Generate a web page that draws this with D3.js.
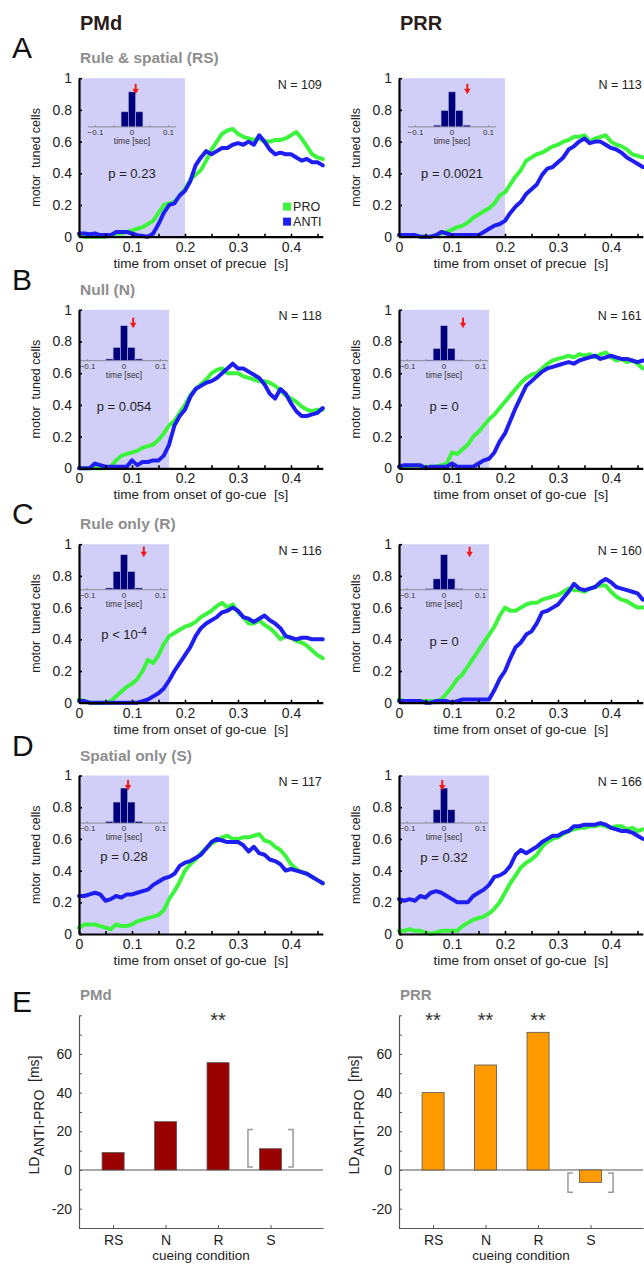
<!DOCTYPE html>
<html><head><meta charset="utf-8">
<script src="https://cdn.jsdelivr.net/npm/d3@7"></script>
<style>body{margin:0;background:#fff} svg{display:block;font-family:"Liberation Sans",Arial,sans-serif}</style>
</head><body><svg id="c" width="644" height="1265"></svg>
<script>
// ---------------- DATA ----------------
const time = [0,0.01,0.02,0.03,0.04,0.05,0.06,0.07,0.08,0.09,0.10,0.11,0.12,0.13,0.14,0.15,0.16,0.17,0.18,0.19,0.20,0.21,0.22,0.23,0.24,0.25,0.26,0.27,0.28,0.29,0.30,0.31,0.32,0.33,0.34,0.35,0.36,0.37,0.38,0.39,0.40,0.41,0.42,0.43,0.44,0.45,0.46];

const pmdRS_pro  = [0.01,0,0,0,0,0,0.01,0.02,0.02,0.03, 0.04,0.05,0.06,0.08,0.1,0.15,0.2,0.21,0.22,0.26, 0.3,0.36,0.39,0.42,0.48,0.55,0.6,0.65,0.67,0.68, 0.65,0.63,0.62,0.61,0.62,0.6,0.6,0.61,0.61,0.62, 0.64,0.66,0.62,0.57,0.52,0.5,0.49];
const pmdRS_anti = [0.02,0.02,0.015,0.02,0.01,0.01,0.01,0.03,0.03,0.03, 0.02,0.01,0.005,0,0.02,0.08,0.15,0.2,0.21,0.26, 0.29,0.35,0.45,0.5,0.54,0.52,0.54,0.56,0.56,0.58, 0.59,0.58,0.6,0.58,0.64,0.6,0.55,0.52,0.53,0.52, 0.52,0.5,0.48,0.49,0.47,0.47,0.45];
const prrRS_pro  = [0.01,0.01,0.01,0.01,0,0,0,0.01,0.02,0.03, 0.045,0.06,0.07,0.09,0.12,0.14,0.16,0.18,0.21,0.26, 0.28,0.33,0.38,0.42,0.48,0.5,0.52,0.53,0.55,0.57, 0.58,0.6,0.61,0.63,0.63,0.64,0.6,0.62,0.63,0.64, 0.6,0.58,0.57,0.55,0.52,0.51,0.5];
const prrRS_anti = [0.01,0.01,0.01,0.01,0,0,0,0.01,0.03,0.02, 0.01,0.01,0.01,0.01,0.01,0.01,0.03,0.05,0.07,0.08, 0.1,0.15,0.19,0.22,0.27,0.3,0.33,0.39,0.43,0.44, 0.47,0.5,0.55,0.57,0.6,0.62,0.59,0.6,0.6,0.58, 0.56,0.55,0.53,0.5,0.48,0.46,0.44];

const pmdN_pro  = [0,0,0,0,0,0,0.01,0.05,0.08,0.09, 0.1,0.11,0.13,0.14,0.15,0.18,0.22,0.27,0.3,0.35, 0.4,0.46,0.5,0.53,0.56,0.6,0.62,0.63,0.6,0.6, 0.6,0.58,0.57,0.56,0.55,0.55,0.54,0.52,0.49,0.46, 0.44,0.42,0.39,0.37,0.36,0.37,0.37];
const pmdN_anti = [0,0,0,0.03,0.02,0.01,0.01,0.01,0.01,0.01, 0.05,0.02,0.04,0.04,0.05,0.05,0.08,0.15,0.27,0.33, 0.37,0.45,0.5,0.52,0.54,0.55,0.57,0.6,0.63,0.66, 0.63,0.63,0.61,0.59,0.57,0.53,0.47,0.44,0.5,0.47, 0.41,0.36,0.33,0.33,0.34,0.35,0.38];
const prrN_pro  = [0.01,0.01,0.01,0.02,0.01,0.01,0.01,0.01,0.02,0.03, 0.1,0.09,0.12,0.15,0.2,0.23,0.27,0.31,0.34,0.38, 0.42,0.46,0.5,0.54,0.57,0.59,0.6,0.63,0.66,0.68, 0.69,0.7,0.71,0.7,0.72,0.71,0.72,0.7,0.72,0.73, 0.7,0.68,0.69,0.67,0.68,0.66,0.63];
const prrN_anti = [0.01,0.02,0.02,0.02,0.02,0,0.01,0.01,0.01,0.01, 0.03,0.01,0.01,0.01,0.01,0.03,0.05,0.06,0.1,0.17, 0.22,0.3,0.38,0.45,0.52,0.55,0.58,0.61,0.63,0.64, 0.65,0.66,0.67,0.66,0.68,0.69,0.7,0.71,0.69,0.7, 0.71,0.7,0.69,0.69,0.68,0.67,0.68];

const pmdR_pro  = [0.02,0.01,0,0,0,0,0.01,0.04,0.07,0.1, 0.12,0.15,0.2,0.27,0.25,0.3,0.37,0.42,0.44,0.46, 0.48,0.49,0.51,0.54,0.56,0.58,0.61,0.63,0.6,0.62, 0.57,0.54,0.5,0.5,0.52,0.49,0.47,0.44,0.4,0.42, 0.41,0.39,0.38,0.36,0.33,0.3,0.28];
const pmdR_anti = [0.01,0.01,0,0,0,0,0,0,0,0, 0,0,0.01,0.02,0.04,0.06,0.09,0.14,0.2,0.25, 0.3,0.35,0.42,0.47,0.5,0.52,0.54,0.57,0.58,0.6, 0.58,0.54,0.53,0.51,0.53,0.55,0.52,0.5,0.47,0.42, 0.41,0.4,0.41,0.41,0.4,0.4,0.4];
const prrR_pro  = [0.02,0.01,0.01,0.01,0.01,0.01,0.01,0.01,0.02,0.06, 0.1,0.15,0.18,0.23,0.28,0.33,0.38,0.43,0.48,0.55, 0.6,0.58,0.58,0.6,0.62,0.63,0.63,0.65,0.66,0.67, 0.68,0.7,0.72,0.71,0.71,0.7,0.72,0.73,0.74,0.74, 0.7,0.67,0.65,0.64,0.62,0.6,0.6];
const prrR_anti = [0.01,0.01,0.01,0.01,0.01,0,0,0.01,0.01,0.01, 0,0.01,0.02,0.02,0.02,0.02,0.02,0.02,0.08,0.15, 0.2,0.28,0.35,0.38,0.43,0.45,0.5,0.57,0.58,0.6, 0.62,0.66,0.7,0.75,0.72,0.71,0.72,0.73,0.76,0.78, 0.76,0.73,0.72,0.71,0.7,0.69,0.65];

const pmdS_pro  = [0.04,0.06,0.06,0.06,0.05,0.04,0.03,0.06,0.05,0.05, 0.06,0.08,0.09,0.1,0.11,0.12,0.15,0.22,0.27,0.33, 0.4,0.44,0.47,0.51,0.54,0.57,0.59,0.61,0.62,0.6, 0.6,0.61,0.61,0.62,0.63,0.59,0.58,0.55,0.53,0.49, 0.44,0.41,0.39,0.38,0.36,0.34,0.32];
const pmdS_anti = [0.24,0.24,0.25,0.26,0.25,0.21,0.22,0.24,0.23,0.25, 0.25,0.26,0.27,0.28,0.31,0.33,0.35,0.36,0.38,0.43, 0.45,0.46,0.48,0.5,0.54,0.58,0.6,0.59,0.58,0.58, 0.58,0.56,0.52,0.55,0.51,0.5,0.47,0.46,0.44,0.4, 0.41,0.4,0.39,0.38,0.36,0.34,0.32];
const prrS_pro  = [0.02,0.02,0.03,0.02,0.02,0.01,0,0.01,0.02,0.02, 0.02,0.02,0.05,0.07,0.09,0.1,0.11,0.13,0.16,0.2, 0.26,0.32,0.37,0.42,0.45,0.47,0.5,0.55,0.58,0.6, 0.61,0.63,0.65,0.66,0.67,0.67,0.68,0.68,0.69,0.68, 0.67,0.68,0.68,0.66,0.67,0.65,0.66];
const prrS_anti = [0.22,0.21,0.22,0.21,0.24,0.23,0.26,0.27,0.26,0.24, 0.22,0.2,0.2,0.2,0.24,0.26,0.28,0.31,0.36,0.37, 0.39,0.43,0.5,0.53,0.51,0.53,0.55,0.58,0.6,0.62, 0.62,0.64,0.65,0.68,0.68,0.69,0.69,0.69,0.7,0.69, 0.67,0.66,0.65,0.65,0.64,0.62,0.6];

const areaNames = ["PMd", "PRR"];
const rowLetters = ["A", "B", "C", "D"];
const rowTitles = ["Rule & spatial (RS)", "Null (N)", "Rule only (R)", "Spatial only (S)"];
const cueNames = ["precue", "go-cue", "go-cue", "go-cue"];
const nCells = [[109, 113], [118, 161], [116, 160], [117, 166]];
const pText = [["p = 0.23", "p = 0.0021"], ["p = 0.054", "p = 0"], ["p < 10", "p = 0"], ["p = 0.28", "p = 0.32"]];
const pExp  = [["", ""], ["", ""], ["-4", ""], ["", ""]];
const shadeEnd = [0.2, 0.17, 0.17, 0.17];
const legendNames = ["PRO", "ANTI"];

const series = [
  [[pmdRS_pro, pmdRS_anti], [prrRS_pro, prrRS_anti]],
  [[pmdN_pro,  pmdN_anti],  [prrN_pro,  prrN_anti]],
  [[pmdR_pro,  pmdR_anti],  [prrR_pro,  prrR_anti]],
  [[pmdS_pro,  pmdS_anti],  [prrS_pro,  prrS_anti]]
];

// inset histograms (relative counts; bin width 0.02 s)
const histBins = [-0.06, -0.04, -0.02, 0, 0.02, 0.04, 0.06];
const histVals = [
  [[0, 0, 0.43, 1, 0.43, 0, 0],       [0, 0.05, 0.47, 1, 0.47, 0.05, 0]],
  [[0, 0.05, 0.38, 1, 0.38, 0.05, 0], [0, 0.02, 0.35, 1, 0.35, 0.02, 0]],
  [[0, 0.05, 0.52, 1, 0.52, 0.05, 0], [0, 0.03, 0.31, 1, 0.31, 0.03, 0]],
  [[0, 0.05, 0.6, 1, 0.6, 0.05, 0],   [0, 0.02, 0.38, 1, 0.38, 0.02, 0]]
];
const arrowPos = [[0.01, 0.042], [0.025, 0.052], [0.054, 0.07], [0.011, -0.005]];
const insetTicks = [-0.1, 0, 0.1];

const xTicks = [0, 0.05, 0.1, 0.15, 0.2, 0.25, 0.3, 0.35, 0.4, 0.45];
const yTicks = [0, 0.2, 0.4, 0.6, 0.8, 1];

// Panel E
const ldCategories = ["RS", "N", "R", "S"];
const ldValues = [[9, 25, 55.5, 11], [40, 54.3, 71.2, -6.4]];
const ldBracket = [[1.5, 21], [-11.5, -1.5]];
const ldSig = [["", "", "**", ""], ["**", "**", "**", ""]];
const ldTicks = [-30, -20, -10, 0, 10, 20, 30, 40, 50, 60, 70, 80];
const ldTickLabels = [-20, 0, 20, 40, 60];

// ---------------- LAYOUT / STYLE ----------------
const GREEN = "#3cf43c", BLUE = "#1e1ef2", SHADE = "#d1cff8";
const BARCOL = ["#990000", "#ff9a00"];
const colX0 = [79, 399];
const rowY0 = [236.7, 468.3, 702.7, 934];
const plotW = 243.8, plotH = 158.5;
const pLabelY = [[0.40, 0.40], [0.39, 0.39], [0.43, 0.386], [0.487, 0.48]];
const insetBase = [0.693, 0.679, 0.713, 0.70];

const svg = d3.select("#c");

// column headers
areaNames.forEach((a, c) => {
  svg.append("text").attr("x", colX0[c] + 1).attr("y", 30)
    .attr("font-size", 20).attr("font-weight", "bold").attr("fill", "#2b1d1b").text(a);
});

rowY0.forEach((y0, r) => {
  const y1 = y0 - plotH;
  svg.append("text").attr("x", 12).attr("y", y1 - 20).attr("font-size", 30).attr("fill", "#111").text(rowLetters[r]);
  svg.append("text").attr("x", 80).attr("y", y1 - 15).attr("font-size", 15.5).attr("font-weight", "bold")
    .attr("fill", "#8e8e8e").text(rowTitles[r]);

  colX0.forEach((x0, c) => {
    const g = svg.append("g");
    const x = d3.scaleLinear().domain([0, 0.46]).range([x0, x0 + plotW]);
    const y = d3.scaleLinear().domain([0, 1]).range([y0, y1]);

    // shaded window
    g.append("rect").attr("x", x(0)).attr("y", y(1)).attr("width", x(shadeEnd[r]) - x(0))
      .attr("height", y(0) - y(1)).attr("fill", SHADE);

    // inset histogram
    const cx = x(shadeEnd[r] / 2);
    const hx = d3.scaleLinear().domain([-0.1, 0.1]).range([cx - 36.5, cx + 36.5]);
    const base = y(insetBase[r]);
    const hy = d3.scaleLinear().domain([0, 1]).range([base, base - 35]);
    const ig = g.append("g");
    ig.append("line").attr("x1", hx(-0.12)).attr("x2", hx(0.12)).attr("y1", base).attr("y2", base)
      .attr("stroke", "#777").attr("stroke-width", 0.8);
    [-0.1, -0.05, 0, 0.05, 0.1].forEach(t => ig.append("line").attr("x1", hx(t)).attr("x2", hx(t))
      .attr("y1", base).attr("y2", base - 1.8).attr("stroke", "#777").attr("stroke-width", 0.6));
    ig.selectAll("rect.h").data(histVals[r][c]).join("rect").attr("class", "h")
      .attr("x", (d, i) => hx(histBins[i] - 0.01)).attr("width", hx(0.02) - hx(0))
      .attr("y", d => hy(d)).attr("height", d => base - hy(d))
      .attr("fill", "#00007e").attr("stroke", "#b8b8d0").attr("stroke-width", 0.6);
    insetTicks.forEach(t => ig.append("text").attr("x", hx(t)).attr("y", base + 8)
      .attr("text-anchor", "middle").attr("font-size", 8).attr("fill", "#333")
      .text(t === 0 ? "0" : d3.format(".1f")(t)));
    ig.append("text").attr("x", cx).attr("y", base + 17).attr("text-anchor", "middle")
      .attr("font-size", 8.5).attr("fill", "#333").text("time [sec]");
    const ax = hx(arrowPos[r][c]);
    ig.append("line").attr("x1", ax).attr("x2", ax).attr("y1", base - 43).attr("y2", base - 37)
      .attr("stroke", "#f01818").attr("stroke-width", 2);
    ig.append("path").attr("d", `M${ax - 3.2},${base - 38}L${ax + 3.2},${base - 38}L${ax},${base - 32.5}Z`)
      .attr("fill", "#f01818");

    // p-value
    const pt = g.append("text").attr("x", cx).attr("y", y(pLabelY[r][c])).attr("dy", "0.35em")
      .attr("text-anchor", "middle").attr("font-size", 13).attr("fill", "#222");
    pt.append("tspan").text(pText[r][c]);
    if (pExp[r][c]) pt.append("tspan").attr("dy", "-0.45em").attr("font-size", 10).text(pExp[r][c]);

    // lines
    const line = d3.line().x((d, i) => x(time[i])).y(d => y(d));
    [GREEN, BLUE].forEach((col, k) => {
      g.append("path").attr("d", line(series[r][c][k])).attr("fill", "none").attr("stroke", col)
        .attr("stroke-width", 4).attr("stroke-linejoin", "round").attr("stroke-linecap", "round");
    });

    // axes
    const xa = g.append("g").attr("transform", `translate(0,${y0})`)
      .call(d3.axisBottom(x).tickValues(xTicks).tickSizeInner(-3).tickSizeOuter(0).tickPadding(5)
        .tickFormat(d => (Math.round(d * 100) % 10 === 0) ? (d === 0 ? "0" : d3.format(".1f")(d)) : ""));
    const ya = g.append("g").attr("transform", `translate(${x0},0)`)
      .call(d3.axisLeft(y).tickValues(yTicks).tickSizeInner(-3).tickSizeOuter(0).tickPadding(7)
        .tickFormat(d => (d === 0 || d === 1) ? String(d) : d3.format(".1f")(d)));
    [xa, ya].forEach(a => {
      a.select(".domain").attr("stroke", "#000").attr("stroke-width", 2.2);
      a.selectAll(".tick line").attr("stroke", "#000").attr("stroke-width", 1.6);
      a.selectAll(".tick text").attr("font-size", 14).attr("fill", "#222")
        .attr("font-family", '"Liberation Sans", Arial, sans-serif');
    });

    // axis labels
    g.append("text").attr("x", (x(0) + x(0.46)) / 2).attr("y", y0 + 31).attr("text-anchor", "middle")
      .attr("font-size", 13.5).attr("fill", "#222").style("white-space", "pre")
      .text(`time from onset of ${cueNames[r]}  [s]`);
    g.append("text").attr("text-anchor", "middle")
      .attr("font-size", 12.5).attr("fill", "#222").style("white-space", "pre").text("motor  tuned cells")
      .attr("transform", `translate(${x0 - 39},${(y0 + y1) / 2}) rotate(-90)`);

    // N
    g.append("text").attr("x", x0 + plotW - 1).attr("y", y1 + 10.5).attr("text-anchor", "end")
      .attr("font-size", 12.5).attr("fill", "#222").text(`N = ${nCells[r][c]}`);

    // legend (first panel only)
    if (r === 0 && c === 0) {
      [GREEN, BLUE].forEach((col, k) => {
        const ly = y(0.19 - k * 0.095);
        g.append("rect").attr("x", x(0.385)).attr("y", ly - 4).attr("width", 8).attr("height", 8).attr("fill", col);
        g.append("text").attr("x", x(0.385) + 10).attr("y", ly).attr("dy", "0.35em").attr("font-size", 12.5)
          .attr("fill", "#222").text(legendNames[k]);
      });
    }
  });
});

// ---------------- PANEL E ----------------
svg.append("text").attr("x", 12).attr("y", 1012).attr("font-size", 30).attr("fill", "#111").text("E");
colX0.forEach((x0, c) => {
  const g = svg.append("g");
  const xE = d3.scaleLinear().domain([0.35, 5]).range([x0, x0 + 244]);
  const yE = d3.scaleLinear().domain([-30, 80]).range([1228, 1015.3]);
  g.append("text").attr("x", x0 + 1).attr("y", 1000).attr("font-size", 15).attr("font-weight", "bold")
    .attr("fill", "#8e8e8e").text(areaNames[c]);

  // zero line
  g.append("line").attr("x1", xE(0.35)).attr("x2", xE(5)).attr("y1", yE(0)).attr("y2", yE(0))
    .attr("stroke", "#555").attr("stroke-width", 1);

  // bars
  g.selectAll("rect.b").data(ldValues[c]).join("rect").attr("class", "b")
    .attr("x", (d, i) => xE(i + 1 - 0.21)).attr("width", xE(0.42) - xE(0))
    .attr("y", d => yE(Math.max(d, 0))).attr("height", d => Math.abs(yE(d) - yE(0)))
    .attr("fill", BARCOL[c]).attr("stroke", "#555").attr("stroke-width", 0.8);

  // bracket around S
  const [lo, hi] = ldBracket[c];
  const bl = xE(4 - 0.43), br = xE(4 + 0.43);
  g.append("path").attr("d", `M${bl + 5},${yE(hi)}H${bl}V${yE(lo)}H${bl + 5}M${br - 5},${yE(hi)}H${br}V${yE(lo)}H${br - 5}`)
    .attr("fill", "none").attr("stroke", "#9a9a9a").attr("stroke-width", 1.5);

  // significance stars
  ldSig[c].forEach((s, i) => {
    if (s) g.append("text").attr("x", xE(i + 1)).attr("y", 1027).attr("text-anchor", "middle")
      .attr("font-size", 20).attr("fill", "#333").text(s);
  });

  // axes
  const ya = g.append("g").attr("transform", `translate(${x0},0)`)
    .call(d3.axisLeft(yE).tickValues(ldTicks).tickSizeInner(-3).tickSizeOuter(0).tickPadding(7)
      .tickFormat(d => ldTickLabels.includes(d) ? String(d) : ""));
  const xa = g.append("g").attr("transform", `translate(0,${yE(-30)})`)
    .call(d3.axisBottom(xE).tickValues([1, 2, 3, 4]).tickSizeInner(-3).tickSizeOuter(0).tickPadding(7)
      .tickFormat(d => ldCategories[d - 1]));
  [xa, ya].forEach(a => {
    a.select(".domain").attr("stroke", "#555").attr("stroke-width", 1.2);
    a.selectAll(".tick line").attr("stroke", "#555").attr("stroke-width", 1);
    a.selectAll(".tick text").attr("font-size", 14).attr("fill", "#222")
      .attr("font-family", '"Liberation Sans", Arial, sans-serif');
  });

  g.append("text").attr("x", (xE(0.35) + xE(5)) / 2).attr("y", 1260).attr("text-anchor", "middle")
    .attr("font-size", 13.5).attr("fill", "#222").text("cueing condition");

  const yl = g.append("text").attr("transform", `translate(${x0 - 40},1115) rotate(-90)`)
    .attr("text-anchor", "middle").attr("font-size", 14).attr("fill", "#222").style("white-space", "pre");
  yl.append("tspan").text("LD");
  yl.append("tspan").attr("dy", "0.35em").text("ANTI-PRO");
  yl.append("tspan").attr("dy", "-0.35em").text("  [ms]");
});
</script>
</body></html>
